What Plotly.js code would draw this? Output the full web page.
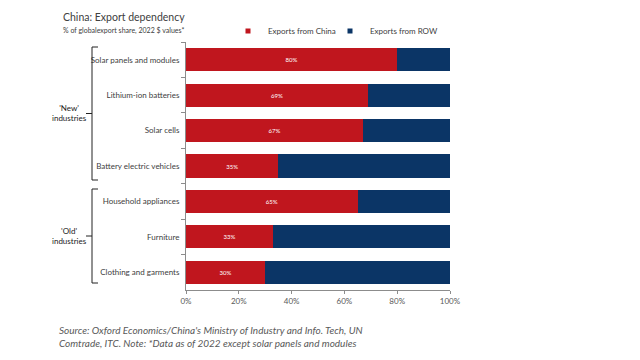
<!DOCTYPE html>
<html><head><meta charset="utf-8">
<script src="https://cdn.plot.ly/plotly-3.0.1.min.js"></script>
<style>html,body{margin:0;padding:0;background:#fff}#c{width:640px;height:360px}</style>
</head><body><div id="c"></div>
<script>
const categories = ["Solar panels and modules","Lithium-ion batteries","Solar cells","Battery electric vehicles","Household appliances","Furniture","Clothing and garments"];
const chinaShare = [80, 69, 67, 35, 65, 33, 30];
const rowShare = [20, 31, 33, 65, 35, 67, 70];
const xTickVals = [0, 20, 40, 60, 80, 100];
const xTickText = ["0%", "20%", "40%", "60%", "80%", "100%"];
const seriesNames = ["Exports from China", "Exports from ROW"];
const seriesColors = ["#C0161E", "#0B3566"];

const F = "Lato, 'Open Sans', sans-serif";
const L = 186, R = 450, T = 42, B = 290;
const px = x => (x - L) / (R - L);
const py = y => (B - y) / (B - T);

function brace(top, bot, x) {
  const mid = (top + bot) / 2;
  const p = `M ${px(x+6)} ${py(top)} L ${px(x)} ${py(top)} L ${px(x)} ${py(bot)} L ${px(x+6)} ${py(bot)} M ${px(x)} ${py(mid)} L ${px(x-6)} ${py(mid)}`;
  return {type:'path', xref:'paper', yref:'paper', path:p, line:{color:'#222', width:1}};
}

const traces = [
  {type:'bar', orientation:'h', name:seriesNames[0], y:categories, x:chinaShare, showlegend:false,
   marker:{color:seriesColors[0]}, text:chinaShare.map(v=>v+'%'), textposition:'inside',
   insidetextanchor:'middle', textfont:{color:'#fff', size:6, family:F}, hoverinfo:'skip'},
  {type:'bar', orientation:'h', name:seriesNames[1], y:categories, x:rowShare, showlegend:false,
   marker:{color:seriesColors[1]}, textposition:'none', hoverinfo:'skip'},
  {type:'scatter', mode:'markers', name:seriesNames[0], x:[null], y:[null], legend:'legend',
   marker:{symbol:'square', size:5, color:seriesColors[0]}},
  {type:'scatter', mode:'markers', name:seriesNames[1], x:[null], y:[null], legend:'legend2',
   marker:{symbol:'square', size:5, color:seriesColors[1]}}
];

const legStyle = {orientation:'h', yanchor:'middle', xanchor:'left', font:{size:8, color:'#404040'},
                  itemwidth:30, bgcolor:'rgba(0,0,0,0)'};

const layout = {
  width:640, height:360, barmode:'stack', bargap:0.35,
  margin:{l:L, r:640-R, t:T, b:360-B, pad:0},
  paper_bgcolor:'#fff', plot_bgcolor:'#fff',
  font:{family:F, color:'#595959', size:8},
  showlegend:true,
  legend:Object.assign({}, legStyle, {x:px(228), y:py(31)}),
  legend2:Object.assign({}, legStyle, {x:px(330), y:py(31)}),
  xaxis:{range:[0,100], tickmode:'array', tickvals:xTickVals, ticktext:xTickText, showgrid:false, zeroline:false,
         showline:true, linecolor:'#8c8c8c', ticks:'outside', ticklen:3, tickcolor:'#8c8c8c',
         tickfont:{size:8, color:'#595959'}, fixedrange:true},
  yaxis:{type:'category', categoryorder:'array', categoryarray:categories, autorange:'reversed',
         showline:true, linecolor:'#8c8c8c', ticks:'outside', tickson:'boundaries', ticklen:4,
         tickcolor:'#8c8c8c', showgrid:false, tickfont:{size:8, color:'#404040'}, ticklabelstandoff:4},
  shapes:[brace(47, 180, 92), brace(189, 283, 92)],
  annotations:[
    {xref:'paper', yref:'paper', x:px(61), y:py(17), xanchor:'left', yanchor:'middle', showarrow:false,
     text:'China: Export dependency', font:{size:10.5, color:'#404040', family:F}},
    {xref:'paper', yref:'paper', x:px(61), y:py(30), xanchor:'left', yanchor:'middle', showarrow:false,
     text:'% of globalexport share, 2022 $ values*', font:{size:7, color:'#404040', family:F}},
    {xref:'paper', yref:'paper', x:px(89), y:py(113), xanchor:'right', yanchor:'middle', showarrow:false, align:'center',
     text:"'New'<br>industries", font:{size:8, color:'#222', family:F}},
    {xref:'paper', yref:'paper', x:px(89), y:py(236), xanchor:'right', yanchor:'middle', showarrow:false, align:'center',
     text:"'Old'<br>industries", font:{size:8, color:'#222', family:F}},
    {xref:'paper', yref:'paper', x:px(57), y:py(336), xanchor:'left', yanchor:'middle', showarrow:false, align:'left',
     text:"<i>Source: Oxford Economics/China's Ministry of Industry and Info. Tech, UN</i><br><i>Comtrade, ITC. Note: *Data as of 2022 except solar panels and modules</i>",
     font:{size:10, color:'#595959', family:F}}
  ]
};
Plotly.newPlot('c', traces, layout, {displayModeBar:false, staticPlot:true});
</script></body></html>
